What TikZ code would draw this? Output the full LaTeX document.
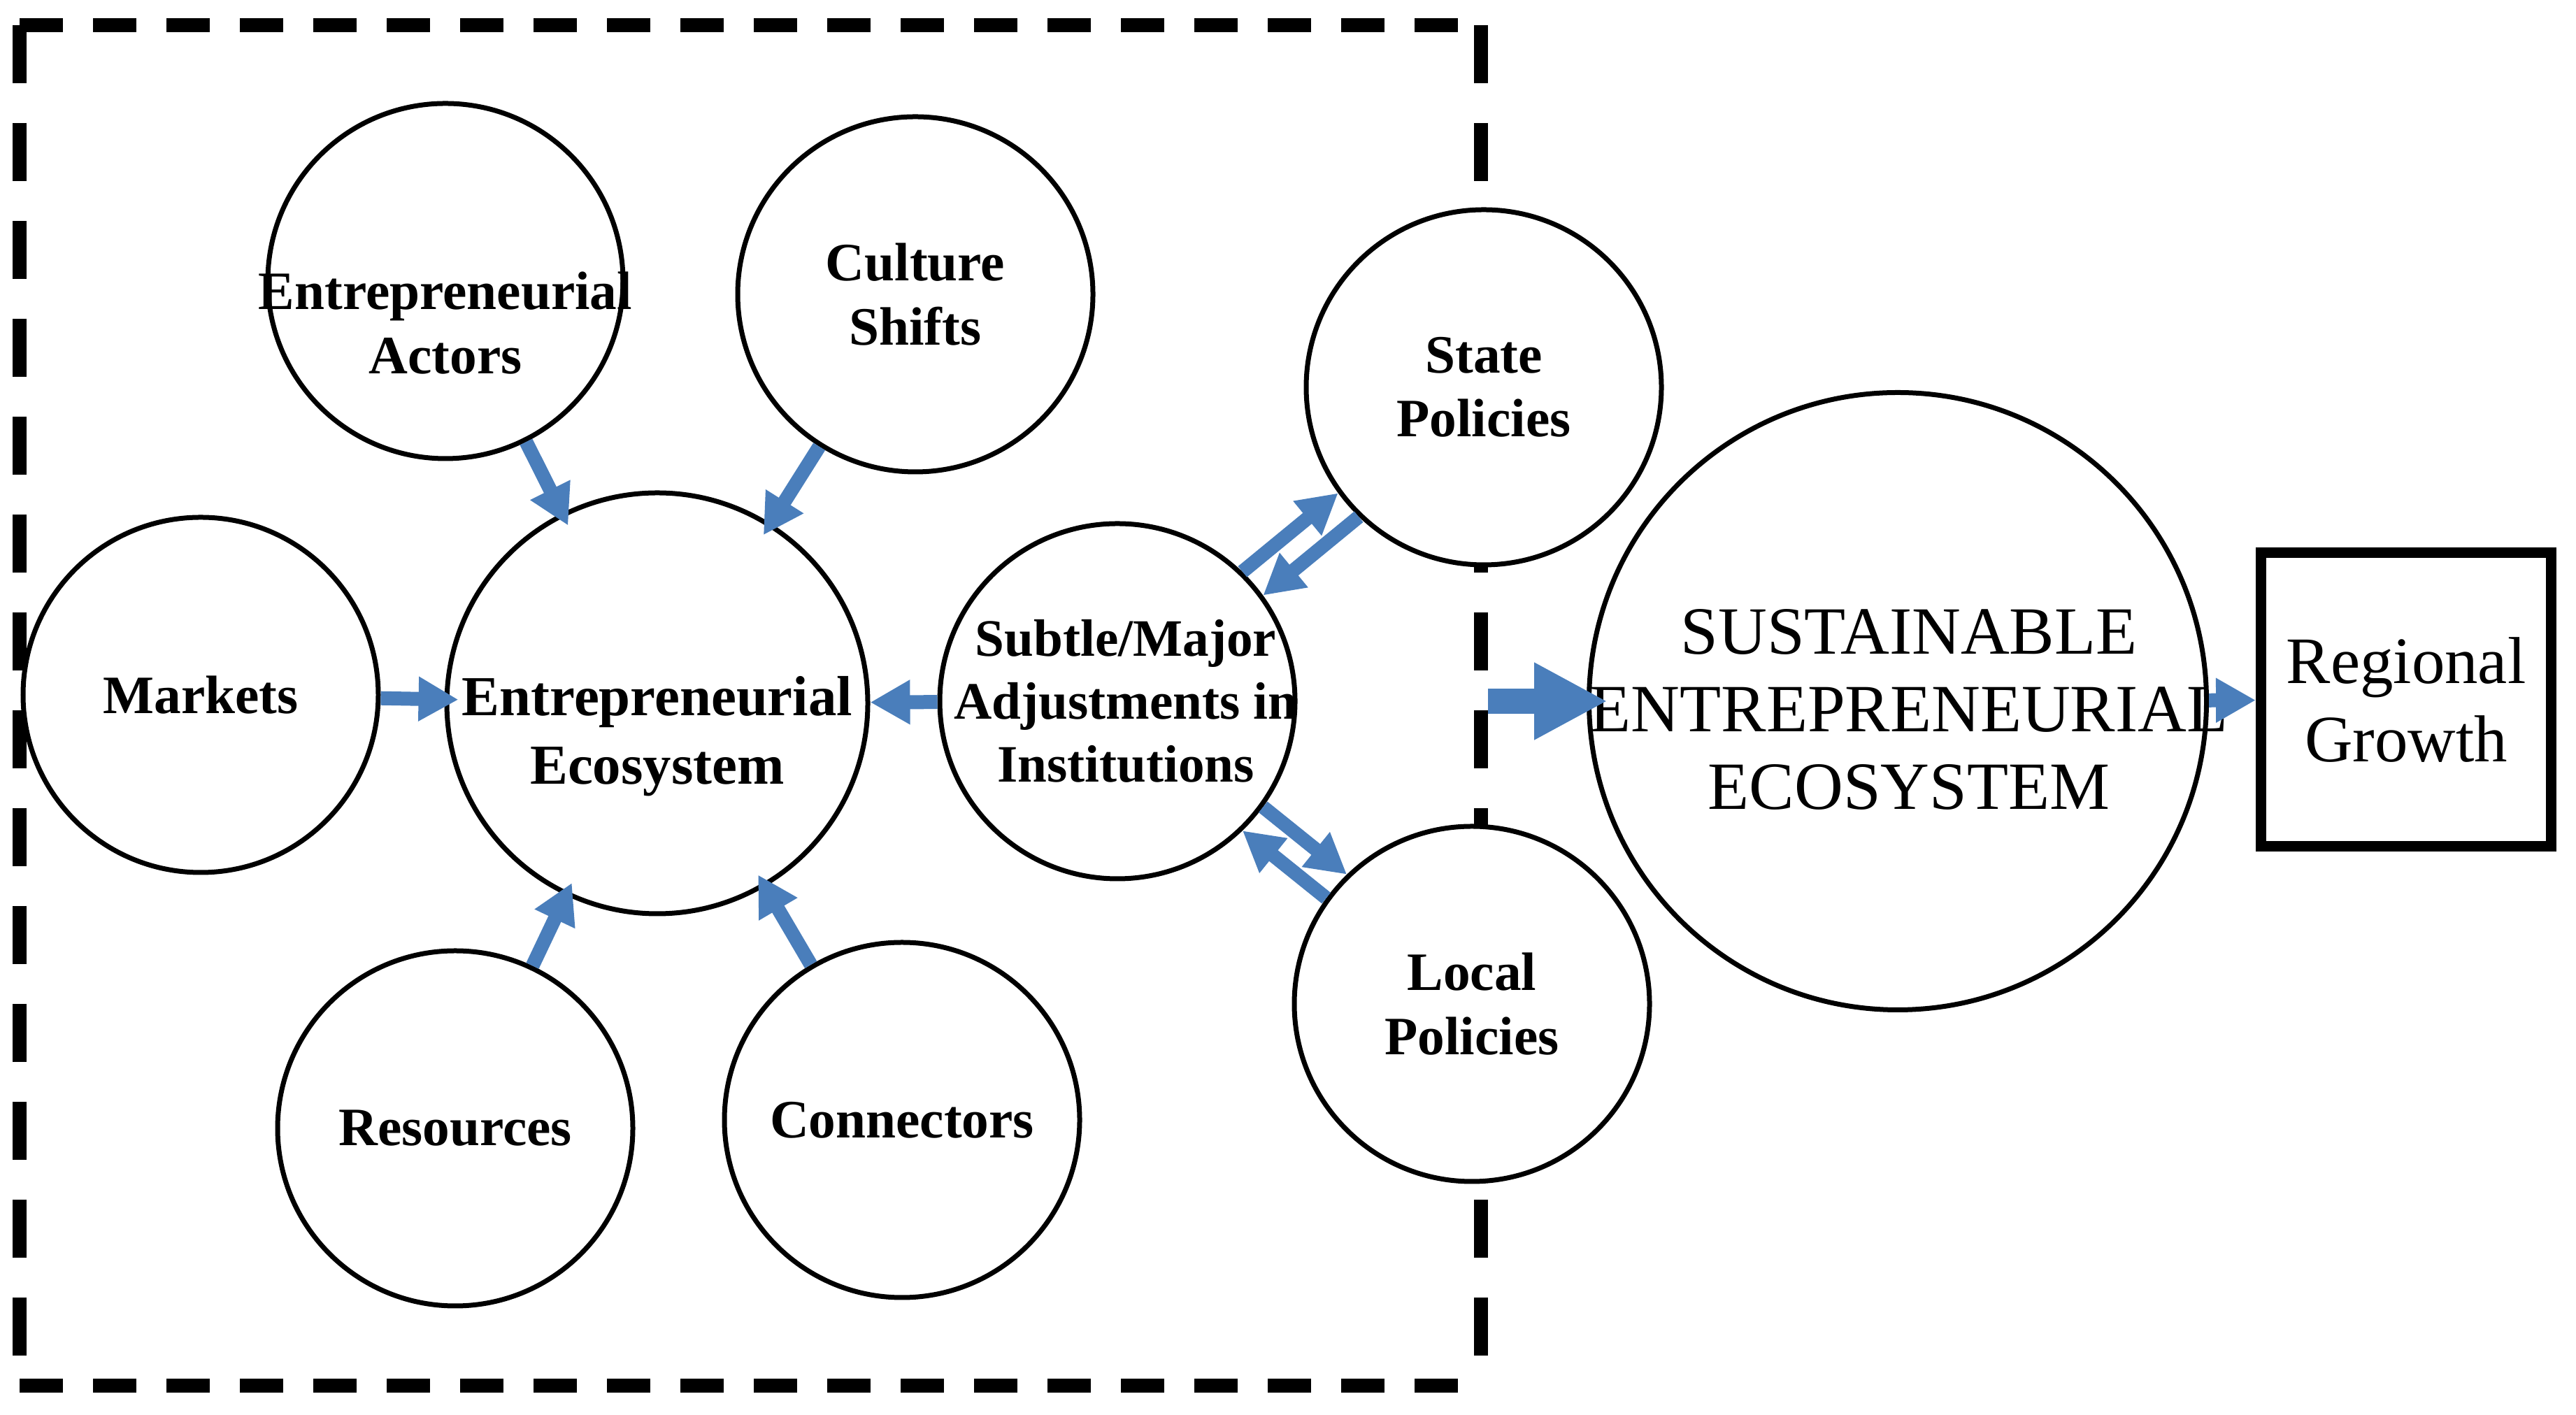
\documentclass[tikz,border=0pt]{standalone}
\usepackage{fontspec}
\setmainfont{Liberation Serif}
\usepackage{tikz}
\usetikzlibrary{arrows.meta,positioning}
\definecolor{eco-blue}{HTML}{4A7EBB}

\begin{document}
\begin{tikzpicture}[
    bubble/.style={circle, draw, line width=0.7mm, fill=white, minimum size=5.08cm, inner sep=0pt, align=center, font=\bfseries\fontsize{22}{26}\selectfont},
    hub/.style={bubble, minimum size=6.02cm},
    outcome/.style={bubble, minimum size=8.83cm},
    goal/.style={rectangle, draw, line width=1.5mm, fill=white, minimum width=4.15cm, minimum height=4.2cm, align=center, font=\fontsize{27}{32}\selectfont},
    tag/.style={align=center, inner sep=0pt, font=\bfseries\fontsize{22}{26}\selectfont},
    flow/.style={draw=eco-blue, line width=2mm, -{Triangle[length=5.7mm, width=6mm]}},
    inflow/.style={flow, shorten >=-2mm},
    bigflow/.style={draw=eco-blue, line width=3.6mm, -{Triangle[length=10.5mm, width=10.3mm]}},
    frameH/.style={line width=2mm, dash pattern=on 6.2mm off 4.3mm},
    frameV/.style={line width=2mm, dash pattern=on 8.3mm off 5.7mm}]
    \useasboundingbox (0,0) rectangle (36.84,20.24);
    % dashed frame round the ecosystem
    \coordinate (nw) at (0.28,19.88);
    \coordinate (ne) at (21.18,19.88);
    \coordinate (se) at (21.18,0.42);
    \coordinate (sw) at (0.28,0.42);
    \draw[frameH] (nw) -- (ne); \draw[frameH] (sw) -- (se);
    \draw[frameV] (nw) -- (sw); \draw[frameV] (ne) -- (se);
    \coordinate (gate) at (21.28,10.21);
    % circles
    \node[bubble] (actors) at (6.37,16.22) {};
    \node[tag] (actorstxt) at ([yshift=-6mm]actors.center) {Entrepreneurial\\Actors};
    \node[bubble] (culture) at (13.09,16.03) {Culture\\Shifts};
    \node[bubble] (markets) at (2.87,10.30) {Markets};
    \node[hub] (eco) at (9.40,10.18) {};
    \node[tag, font=\bfseries\fontsize{23}{28}\selectfont] (ecotxt) at ([yshift=-4.7mm]eco.center) {Entrepreneurial\\Ecosystem};
    \node[bubble] (resources) at (6.51,4.10) {Resources};
    \node[bubble] (connectors) at (12.90,4.22) {Connectors};
    \node[bubble] (subtle) at (15.98,10.21) {};
    \node[tag, font=\bfseries\fontsize{21.4}{25.6}\selectfont] (subtletxt) at ([xshift=1.2mm]subtle.center) {Subtle/Major\\Adjustments in\\Institutions};
    \node[bubble] (state) at (21.22,14.70) {State\\Policies};
    \node[bubble] (local) at (21.05,5.88) {Local\\Policies};
    \node[outcome] (sust) at (27.14,10.21) {};
    \node[tag, font=\fontsize{27.5}{31.5}\selectfont] (susttxt) at ([xshift=1.6mm, yshift=-1.2mm]sust.center) {SUSTAINABLE\\ENTREPRENEURIAL\\ECOSYSTEM};
    \node[goal] (growth) at (34.41,10.23) {Regional\\Growth};
    % arrows
    \draw[inflow] (actors) -- (eco);
    \draw[inflow] (culture) -- (eco);
    \draw[inflow] (markets) -- (eco);
    \draw[inflow] (resources) -- (eco);
    \draw[inflow] (connectors) -- (eco);
    \draw[flow] (subtle) -- (eco);
    \draw[flow] (subtle.46) -- (state.216);
    \draw[flow] (state.226) -- (subtle.36);
    \draw[flow] (subtle.-36) -- (local.134);
    \draw[flow] (local.144) -- (subtle.-46);
    \draw[bigflow, shorten >=-3mm] (gate) -- (sust);
    \draw[flow] (sust) -- (growth);
\end{tikzpicture}
\end{document}
